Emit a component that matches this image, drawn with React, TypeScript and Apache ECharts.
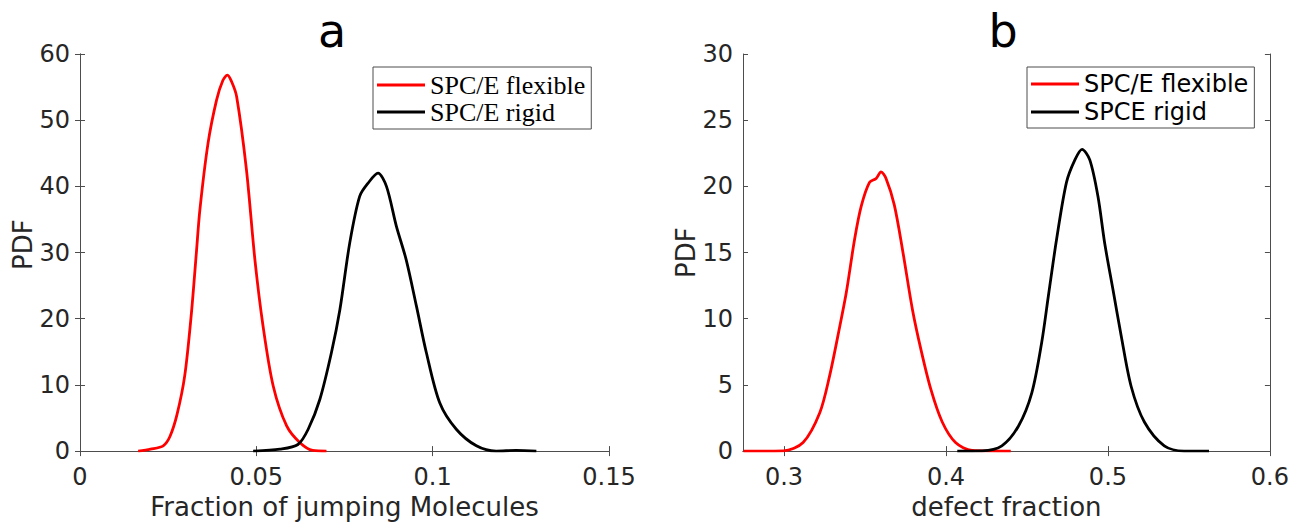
import React, { useEffect, useRef } from "react";
import * as echarts from "echarts";

// Panel a
const aFlexX = [0.0165, 0.020, 0.0236, 0.0255, 0.0275, 0.0297, 0.0316, 0.0330, 0.0340, 0.0363, 0.0387, 0.0405, 0.0418, 0.0430, 0.0444, 0.0472, 0.0496, 0.0519, 0.0548, 0.0586, 0.0623, 0.0660, 0.0699];
const aFlexY = [0, 0.3, 0.8, 2.2, 5.5, 11.4, 20.9, 30, 36.5, 46.5, 53, 56, 56.8, 55.8, 53.6, 42.5, 28.9, 18.9, 9.8, 3.8, 1.3, 0.1, 0];
const aRigidX = [0.0491, 0.0567, 0.0618, 0.0647, 0.068, 0.0713, 0.0737, 0.0765, 0.0793, 0.0817, 0.0845, 0.0869, 0.0897, 0.0925, 0.0954, 0.0982, 0.102, 0.1067, 0.1124, 0.118, 0.1237, 0.1294];
const aRigidY = [0, 0.3, 1.0, 3.3, 7.8, 14.9, 21.4, 31.5, 38.5, 40.5, 42.0, 40, 34, 28.9, 21.9, 14.9, 7.3, 3.3, 0.8, 0, 0.1, 0];

// Panel b
const bFlexX = [0.275, 0.2996, 0.3118, 0.3221, 0.3282, 0.3344, 0.3385, 0.3436, 0.3477, 0.3528, 0.3569, 0.3599, 0.363, 0.3681, 0.3732, 0.3793, 0.3845, 0.3906, 0.3977, 0.4059, 0.4161, 0.44];
const bFlexY = [0, 0.02, 0.65, 2.9, 5.7, 9.4, 12.0, 16.0, 18.5, 20.3, 20.6, 21.1, 20.6, 18.6, 15.2, 10.7, 7.7, 4.7, 2.2, 0.65, 0.05, 0];
const bRigidX = [0.407, 0.4223, 0.4345, 0.4448, 0.453, 0.4591, 0.4632, 0.4683, 0.4744, 0.4796, 0.484, 0.4888, 0.4939, 0.498, 0.5031, 0.5082, 0.5143, 0.5225, 0.5348, 0.547, 0.5624];
const bRigidY = [0, 0.02, 0.4, 1.9, 4.4, 8.2, 11.7, 16.0, 20.3, 22.0, 22.8, 22.0, 19.2, 15.7, 12.2, 8.7, 4.9, 2.2, 0.4, 0, 0];

const bTicks = [0.3, 0.4, 0.5, 0.6];
const legendA = ["SPC/E flexible", "SPC/E rigid"];
const legendB = ["SPC/E flexible", "SPCE rigid"];

const zip = (xs: number[], ys: number[]) => xs.map((x, i) => [x, ys[i]]);

const AX = "#4d4d4d";
const TXT = "#262626";
const SANS = "DejaVu Sans";

export default function App() {
  const ref = useRef<HTMLDivElement>(null);
  useEffect(() => {
    const chart = echarts.init(ref.current!, null, { renderer: "svg" });
    const axisLine = { show: true, lineStyle: { color: AX, width: 1 } };
    const tick = { show: true, inside: true, length: 5, lineStyle: { color: AX } };
    const lbl = { color: TXT, fontFamily: SANS, fontSize: 24 };
    const nameStyle = { color: TXT, fontFamily: SANS, fontSize: 26 };
    const mkX = (grid: number, min: number, max: number, extra: any, pos: string, main: boolean, name?: string) => ({
      type: "value", gridIndex: grid, min, max, position: pos,
      axisLine, axisTick: { ...tick, ...(extra.tick || {}) },
      axisLabel: main ? { ...lbl, margin: 14, ...(extra.label || {}) } : { show: false },
      splitLine: { show: false },
      name: main ? name : undefined, nameLocation: "middle", nameGap: 42, nameTextStyle: nameStyle,
      ...(extra.interval ? { interval: extra.interval } : {}),
    });
    const mkY = (grid: number, max: number, interval: number, pos: string, main: boolean, namePad?: number[]) => ({
      type: "value", gridIndex: grid, min: 0, max, interval, position: pos,
      axisLine, axisTick: tick,
      axisLabel: main ? { ...lbl, margin: 10 } : { show: false },
      splitLine: { show: false },
      name: main ? "PDF" : undefined, nameLocation: "middle", nameGap: 44,
      nameTextStyle: { ...nameStyle, ...(namePad ? { padding: namePad } : {}) },
    });
    const line = (name: string, color: string, data: number[][], xi: number, yi: number) => ({
      type: "line", name, data, xAxisIndex: xi, yAxisIndex: yi, symbol: "none", smooth: 0.3,
      lineStyle: { color, width: 2.8 }, itemStyle: { color }, clip: true,
    });
    const bCustom = { tick: { customValues: bTicks }, label: { customValues: bTicks } };
    const legendCommon = {
      orient: "vertical", top: 67, padding: [5, 6, 4, 4],
      itemWidth: 48, itemHeight: 3, icon: "rect", borderColor: AX, borderWidth: 1, backgroundColor: "#fff",
      selectedMode: false,
    };
    chart.setOption({
      animation: false,
      backgroundColor: "#fff",
      title: [
        { text: "a", left: 332, top: 8, textAlign: "center", padding: 0, textStyle: { fontFamily: SANS, fontSize: 46, fontWeight: "normal", color: "#000" } },
        { text: "b", left: 1003, top: 8, textAlign: "center", padding: 0, textStyle: { fontFamily: SANS, fontSize: 46, fontWeight: "normal", color: "#000" } },
      ],
      grid: [
        { left: 80, right: 683, top: 54, bottom: 71 },
        { left: 743, right: 19, top: 54, bottom: 71 },
      ],
      xAxis: [
        mkX(0, 0, 0.15, { interval: 0.05 }, "bottom", true, "Fraction of jumping Molecules"),
        mkX(0, 0, 0.15, { interval: 0.05 }, "top", false),
        mkX(1, 0.2747, 0.6, bCustom, "bottom", true, "defect fraction"),
        mkX(1, 0.2747, 0.6, bCustom, "top", false),
      ],
      yAxis: [
        mkY(0, 60, 10, "left", true, [0, 0, 0, 16]),
        mkY(0, 60, 10, "right", false),
        mkY(1, 30, 5, "left", true),
        mkY(1, 30, 5, "right", false),
      ],
      legend: [
        {
          ...legendCommon, data: legendA, left: 373, itemGap: 1,
          textStyle: { fontFamily: "Liberation Serif", fontSize: 26, color: "#000" },
        },
        {
          ...legendCommon, data: legendB, left: 1027, itemGap: 4,
          textStyle: { fontFamily: SANS, fontSize: 24, color: "#000" },
        },
      ],
      series: [
        line(legendA[0], "#ff0000", zip(aFlexX, aFlexY), 0, 0),
        line(legendA[1], "#000000", zip(aRigidX, aRigidY), 0, 0),
        line(legendB[0], "#ff0000", zip(bFlexX, bFlexY), 2, 2),
        line(legendB[1], "#000000", zip(bRigidX, bRigidY), 2, 2),
      ],
    });
    return () => chart.dispose();
  }, []);
  return <div ref={ref} style={{ position: "fixed", left: 0, top: 0, width: 1292, height: 525 }} />;
}
